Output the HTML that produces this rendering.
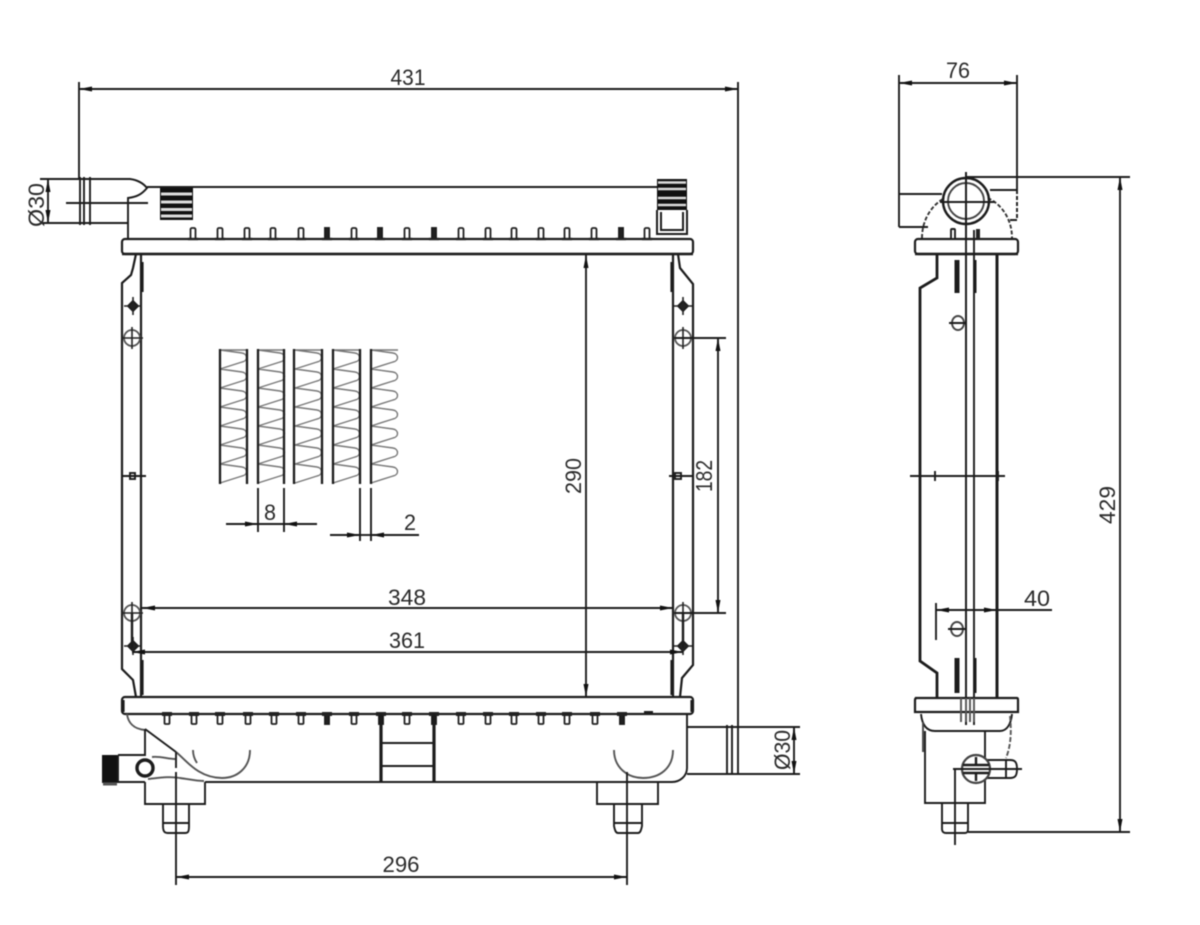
<!DOCTYPE html>
<html><head><meta charset="utf-8"><style>
html,body{margin:0;padding:0;background:#fff}
svg{display:block;filter:blur(.4px)}
text{font-family:"Liberation Sans",sans-serif;font-size:22px;fill:#2a2a2a;text-anchor:middle;stroke:none}
</style></head><body>
<svg width="1200" height="925" viewBox="0 0 1200 925" xmlns="http://www.w3.org/2000/svg">
<defs>
<marker id="a" markerUnits="userSpaceOnUse" markerWidth="14" markerHeight="8" refX="13" refY="4" orient="auto-start-reverse"><path d="M0 1.500L13 4L0 6.500Z" fill="#111"/></marker>
<g id="p"><rect x="-2.500" y="228" width="5" height="11" rx="1.500" fill="#fff" stroke="#222" stroke-width="1.800"/><path d="M-5 239H5" stroke="#222" stroke-width="2.400"/></g>
<g id="pd"><rect x="-2" y="228" width="4" height="11" fill="#222"/><path d="M-5 239H5" stroke="#222" stroke-width="2.400"/></g>
<g id="q"><rect x="-2.500" y="714" width="5" height="10" rx="1" fill="#fff" stroke="#222" stroke-width="1.800"/><path d="M-5 712H5V716H-5Z" fill="#222" stroke="none"/></g>
<g id="qd"><rect x="-2" y="714" width="4" height="10" fill="#222"/><path d="M-5 712H5V716H-5Z" fill="#222" stroke="none"/></g>
<g id="f"><path d="M0 350l22 3c6 1 6 8 0 9l-22 7l22 3c6 1 6 8 0 9l-22 7l22 3c6 1 6 8 0 9l-22 7l22 3c6 1 6 8 0 9l-22 7l22 3c6 1 6 8 0 9l-22 7l22 3c6 1 6 8 0 9l-22 7l22 3c6 1 6 8 0 9l-22 7M0 350H27" fill="none" stroke="#777" stroke-width="1.400"/></g>
<g id="dia"><path d="M0 -5L5 0L0 5L-5 0Z" fill="#222"/><path d="M0 -9V9M-9 0H9" stroke="#222" stroke-width="1.600"/></g>
<g id="cir"><circle r="8" fill="none" stroke="#555" stroke-width="1.800"/><path d="M0 -11V11M-11 0H11" stroke="#222" stroke-width="1.600"/></g>
</defs>
<g fill="none" stroke="#1c1c1c" stroke-width="1.900">
<!-- dimension 431 -->
<path d="M79 82V178M738 82V774"/>
<path d="M79 89H738" marker-start="url(#a)" marker-end="url(#a)"/>
<!-- inlet -->
<path d="M40 179H130C138 180 143 183 147 188C142 194 137 197 128 198V239M40 223H128"/>
<path d="M80 177V225M84 177V225M90 177V225M66 203H148"/>
<path d="M48 179V223" marker-start="url(#a)" marker-end="url(#a)"/>
<path d="M147 187H657"/>
<!-- top stripes left -->
<rect x="160" y="188" width="33" height="32" fill="#111" stroke="none"/>
<path d="M161 194H192M161 202H192M161 209.500H192M161 216H192" stroke="#ddd" stroke-width="3"/>
<!-- top stripes right -->
<rect x="657" y="179" width="30" height="31" fill="#111" stroke="none"/>
<path d="M658 182.500H686M658 189H686M658 198H686M658 205H686" stroke="#ddd" stroke-width="2.500"/>
<path d="M657 210V234H687V210M661 212V230H683V212" stroke-width="2"/>
<!-- top header -->
<rect x="122" y="239" width="571" height="15" rx="3" fill="#fff" stroke-width="2.200"/>
<path d="M122 254H693" stroke-width="2.600"/>
<!-- pins top -->
<use href="#p" x="193"/><use href="#p" x="220"/><use href="#p" x="247"/><use href="#p" x="273"/><use href="#p" x="301"/><use href="#pd" x="327"/><use href="#p" x="354"/><use href="#pd" x="380"/><use href="#p" x="407"/><use href="#pd" x="434"/><use href="#p" x="461"/><use href="#p" x="488"/><use href="#p" x="514"/><use href="#p" x="541"/><use href="#p" x="567"/><use href="#p" x="594"/><use href="#pd" x="621"/><use href="#p" x="647"/>
<!-- side plates -->
<path d="M136 254L133 268L131 275L122 283V669L133 680L136 697M141 254V697" stroke-width="2.200"/>
<path d="M142 262V292M142 660V695" stroke-width="3.200"/>
<path d="M678 254L680 268L693 284V665L682 678L680 697M673 254V697" stroke-width="2.200"/>
<path d="M672 262V292M672 660V695" stroke-width="3.200"/>
<use href="#dia" x="133" y="306"/><use href="#cir" x="132" y="338"/><use href="#cir" x="132" y="613"/><use href="#dia" x="133" y="646"/>
<use href="#dia" x="683" y="306"/><use href="#cir" x="683" y="338"/><use href="#cir" x="683" y="613"/><use href="#dia" x="683" y="646"/>
<path d="M132 613V648M683 613V648" stroke-width="2.400"/>
<path d="M122 476H146M669 476H693"/>
<rect x="130" y="473" width="5" height="6"/><rect x="675" y="473" width="6" height="6"/>
<!-- fins -->
<use href="#f" x="220"/><use href="#f" x="258"/><use href="#f" x="295"/><use href="#f" x="333"/><use href="#f" x="371"/>
<path d="M220 349V484M247 349V484M258 349V484M284 349V484M294 349V484M322 349V484M333 349V484M360 349V484M371 349V484" stroke-width="2.300"/>
<path d="M258 488V532M284 488V532M360 488V541M371 488V541"/>
<path d="M226 524H258" marker-end="url(#a)"/><path d="M317 524H284" marker-end="url(#a)"/>
<path d="M258 524H284"/>
<path d="M330 535H360" marker-end="url(#a)"/><path d="M419 535H371" marker-end="url(#a)"/>
<path d="M360 535H371"/>
<!-- dims mid -->
<path d="M586 255V697" marker-start="url(#a)" marker-end="url(#a)"/>
<path d="M718 338V613" marker-start="url(#a)" marker-end="url(#a)"/>
<path d="M675 338H726M675 613H726"/>
<path d="M142 608H673" marker-start="url(#a)" marker-end="url(#a)"/>
<path d="M132 652H683" marker-start="url(#a)" marker-end="url(#a)"/>
<!-- bottom header -->
<rect x="122" y="697" width="571" height="17" rx="3" fill="#fff" stroke-width="2.200"/>
<path d="M123 700V712M692 700V712" stroke-width="3.200"/>
<use href="#q" x="167"/><use href="#q" x="194"/><use href="#q" x="220"/><use href="#q" x="248"/><use href="#q" x="274"/><use href="#q" x="301"/><use href="#qd" x="327"/><use href="#q" x="354"/><use href="#qd" x="381"/><use href="#q" x="407"/><use href="#qd" x="434"/><use href="#q" x="461"/><use href="#q" x="488"/><use href="#q" x="514"/><use href="#q" x="541"/><use href="#q" x="567"/><use href="#q" x="595"/><use href="#qd" x="622"/>
<path d="M644 712.500H653" stroke-width="3"/>
<!-- bottom tank -->
<path d="M205 782H672C680 782 687 776 687 768V714"/>
<path d="M381 714V782M434 714V782" stroke-width="3.200"/>
<path d="M381 743H434M381 766H434"/>
<path d="M127 714C128 722 133 729 145 730" stroke="#555"/>
<path d="M145 729L176 752"/>
<path d="M145 729V755H118M145 782H102M145 782V804H205V782"/>
<rect x="102" y="755" width="16" height="27" fill="#111" stroke="none"/>
<path d="M103 784H117" stroke="#555" stroke-width="3"/>
<path d="M118 755V782"/>
<circle cx="145" cy="768" r="8" stroke-width="3.400"/>
<path d="M152 757C160 756 168 759 175 759M148 779C158 778 170 776 180 778C188 779 196 781 204 781" stroke="#555"/>
<path d="M176 752C186 760 198 778 222 778C237 778 250 768 250 750M193 750C193 756 195 760 197 763" stroke="#555"/>
<path d="M614 750C614 768 628 778 643 778C660 778 673 768 673 750" stroke="#555"/>
<!-- bolts -->
<path d="M163 804V826C163 832 165 833 168 833H185C188 833 189 832 189 826V804M163 823H189"/>
<path d="M176 752V768M176 772V885"/>
<path d="M597 782V804H658V782"/>
<path d="M614 804V826C615 831 616 833 618 833H638C640 833 641 831 642 826V804M614 823H642"/>
<path d="M627 772V885"/>
<!-- outlet -->
<path d="M687 727H800M687 774H800M727 725V774M732 725V774" />
<path d="M794 727V774" marker-start="url(#a)" marker-end="url(#a)"/>
<path d="M176 877H627" marker-start="url(#a)" marker-end="url(#a)"/>
<!-- right view -->
<path d="M899 75V227M1017 75V190"/>
<path d="M899 83H1017" marker-start="url(#a)" marker-end="url(#a)"/>
<path d="M899 194H942M899 227H928M990 190H1017M1010 220H1017"/>
<path d="M1017 190V218" stroke-dasharray="4 2"/>
<path d="M922 238C922 216 936 200 950 196M982 196C998 200 1012 216 1012 238" stroke-dasharray="4 2" stroke="#333"/>
<circle cx="966" cy="201" r="23" fill="#fff" stroke-width="2.400"/>
<circle cx="966" cy="201" r="18" stroke="#444"/>
<path d="M966 172V725M966 177H1130M940 202H995"/>
<rect x="915" y="239" width="103" height="15" rx="3" fill="#fff" stroke-width="2.200"/>
<path d="M915 254H1018" stroke-width="2.600"/>
<path d="M966 172V725M974 230V725"/>
<rect x="951" y="229" width="4" height="10" rx="1" fill="#fff"/><rect x="976" y="229" width="4" height="10" fill="#222" stroke="none"/>
<path d="M937 254V278L920 288V661L937 673V697" stroke-width="2.800"/>
<path d="M997 254V697" stroke-width="3"/>
<path d="M957 260V293M957 658V693" stroke-width="5"/>
<path d="M975 260V293M975 658V693" stroke-width="3"/>
<ellipse cx="958" cy="323" rx="6" ry="7" stroke="#444"/><path d="M949 323H966"/>
<ellipse cx="957" cy="629" rx="6" ry="7" stroke="#444"/><path d="M948 629H966"/>
<path d="M910 476H1005M935 471V481M998 471V481"/>
<path d="M936 603V640"/>
<path d="M936 610H966" marker-start="url(#a)"/><path d="M975 610H1052"/><path d="M966 610H997" marker-end="url(#a)"/>
<path d="M915 698H1017Q1018 698 1018 700V712H915V700Q915 698 917 698Z" fill="#fff" stroke-width="2.200"/>
<path d="M961 698V722M966 698V722M970 698V722M974 698V722" stroke="#555"/>
<path d="M921 714C922 724 926 731 935 731H1000C1007 731 1011 724 1012 714"/>
<path d="M925 731V803H985V731"/>
<path d="M923 722V752" stroke="#444"/>
<path d="M1010 716C1012 735 1010 748 1006 758" stroke="#555" stroke-dasharray="5 2"/>
<path d="M985 760H1010C1015 760 1017 762 1017 769C1017 776 1015 778 1010 778H985M1006 760V778"/>
<circle cx="976" cy="769" r="14" fill="#fff" stroke="#444" stroke-width="2.200"/>
<path d="M963 765H989M963 773H989M976 757V765M976 773V781" stroke-width="2.400"/>
<path d="M953 769H1022M955 769V845"/>
<path d="M942 803V829C942 832 944 833 946 833H965C967 833 968 832 968 829V803M942 823H968"/>
<path d="M968 832H1130"/>
<path d="M1120 177V832" marker-start="url(#a)" marker-end="url(#a)"/>
</g>
<text x="408" y="85" textLength="35" lengthAdjust="spacingAndGlyphs">431</text>
<text x="958" y="78" textLength="24" lengthAdjust="spacingAndGlyphs">76</text>
<text transform="translate(44,205) rotate(-90)" textLength="44" lengthAdjust="spacingAndGlyphs">Ø30</text>
<text transform="translate(581,476) rotate(-90)" textLength="36" lengthAdjust="spacingAndGlyphs">290</text>
<text transform="translate(712,476) rotate(-90)" textLength="32" lengthAdjust="spacingAndGlyphs" style="font-size:23px">182</text>
<text x="270" y="520" textLength="12" lengthAdjust="spacingAndGlyphs">8</text>
<text x="410" y="530" textLength="12" lengthAdjust="spacingAndGlyphs">2</text>
<text x="407" y="605" textLength="38" lengthAdjust="spacingAndGlyphs">348</text>
<text x="407" y="648" textLength="36" lengthAdjust="spacingAndGlyphs">361</text>
<text x="401" y="872" textLength="37" lengthAdjust="spacingAndGlyphs">296</text>
<text transform="translate(790,750) rotate(-90)" textLength="40" lengthAdjust="spacingAndGlyphs">Ø30</text>
<text x="1037" y="606" textLength="26" lengthAdjust="spacingAndGlyphs">40</text>
<text transform="translate(1115,505) rotate(-90)" textLength="38" lengthAdjust="spacingAndGlyphs">429</text>
</svg>
</body></html>
